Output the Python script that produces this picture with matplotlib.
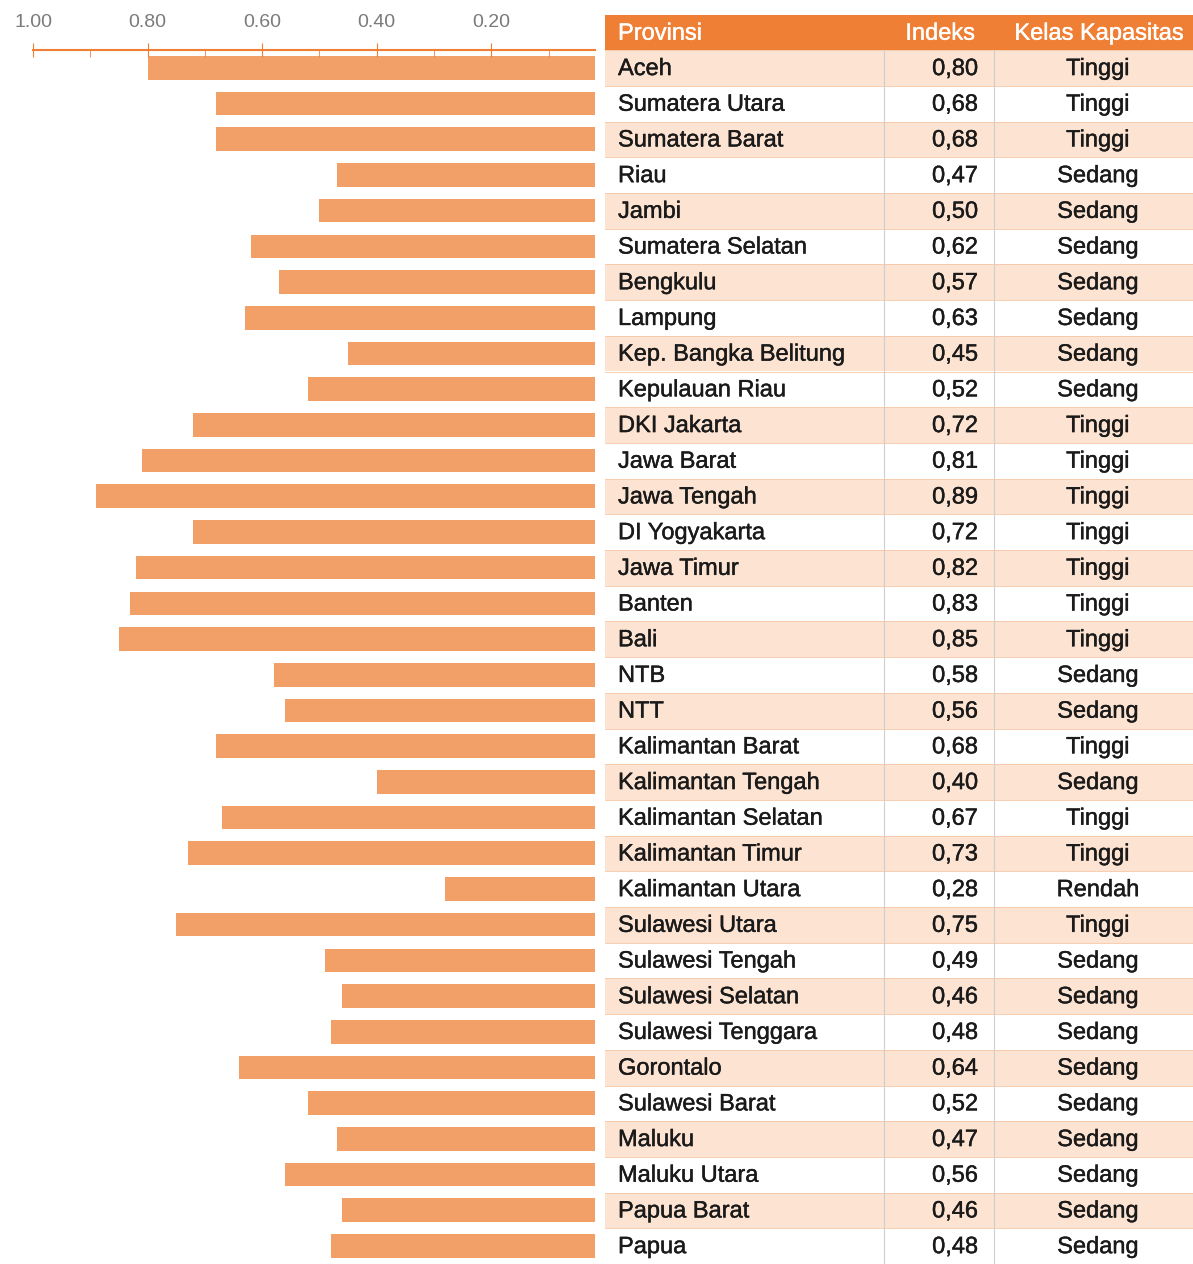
import numpy as np
import matplotlib.pyplot as plt
import matplotlib.patheffects as pe

provinsi = ["Aceh", "Sumatera Utara", "Sumatera Barat", "Riau", "Jambi",
            "Sumatera Selatan", "Bengkulu", "Lampung", "Kep. Bangka Belitung",
            "Kepulauan Riau", "DKI Jakarta", "Jawa Barat", "Jawa Tengah",
            "DI Yogyakarta", "Jawa Timur", "Banten", "Bali", "NTB", "NTT",
            "Kalimantan Barat", "Kalimantan Tengah", "Kalimantan Selatan",
            "Kalimantan Timur", "Kalimantan Utara", "Sulawesi Utara",
            "Sulawesi Tengah", "Sulawesi Selatan", "Sulawesi Tenggara",
            "Gorontalo", "Sulawesi Barat", "Maluku", "Maluku Utara",
            "Papua Barat", "Papua"]
indeks = [0.80, 0.68, 0.68, 0.47, 0.50, 0.62, 0.57, 0.63, 0.45, 0.52,
          0.72, 0.81, 0.89, 0.72, 0.82, 0.83, 0.85, 0.58, 0.56, 0.68,
          0.40, 0.67, 0.73, 0.28, 0.75, 0.49, 0.46, 0.48, 0.64, 0.52,
          0.47, 0.56, 0.46, 0.48]
kelas = ["Tinggi", "Tinggi", "Tinggi", "Sedang", "Sedang", "Sedang", "Sedang",
         "Sedang", "Sedang", "Sedang", "Tinggi", "Tinggi", "Tinggi", "Tinggi",
         "Tinggi", "Tinggi", "Tinggi", "Sedang", "Sedang", "Tinggi", "Sedang",
         "Tinggi", "Tinggi", "Rendah", "Tinggi", "Sedang", "Sedang", "Sedang",
         "Sedang", "Sedang", "Sedang", "Sedang", "Sedang", "Sedang"]
header = ["Provinsi", "Indeks", "Kelas Kapasitas"]
xticks = [1.00, 0.80, 0.60, 0.40, 0.20]

plt.rcParams['font.family'] = ['Liberation Sans', 'DejaVu Sans']

W, H = 1193, 1264
fig = plt.figure(figsize=(W / 100, H / 100), dpi=100)
n = len(provinsi)
rh = 35.7
top = 50

orange = '#ef7f35'
bar_c = '#f3a068'
shade = '#fce3d2'
ink = '#1a1a1a'

# bar chart, reversed x axis on top
ax = fig.add_axes([33 / W, 1 - (top + n * rh) / H, (595 - 33) / W, n * rh / H])
y = np.arange(n)
ax.barh(y, indeks, height=0.66, color=bar_c)
ax.set_xlim(1.0, 0.019)
ax.set_ylim(n - 0.5, -0.5)
for s in ['bottom', 'left', 'right']:
    ax.spines[s].set_visible(False)
ax.spines['top'].set_color(orange)
ax.spines['top'].set_linewidth(1.5)
ax.xaxis.tick_top()
ax.set_xticks(xticks)
ax.set_xticklabels([f"{v:.2f}" for v in xticks])
ax.set_xticks([0.9, 0.7, 0.5, 0.3, 0.1], minor=True)
ax.tick_params(axis='x', which='major', direction='inout', length=10,
               color=orange, labelcolor='#7a7a7a', labelsize=14, pad=9)
ax.tick_params(axis='x', which='minor', direction='in', length=5, color=orange)
ax.set_yticks([])

# table on the right
tx0, tx1 = 605, 1193
tb = fig.add_axes([tx0 / W, 0, (tx1 - tx0) / W, (top + n * rh) / H])
tb.set_xlim(tx0, tx1)
tb.set_ylim(top + n * rh, 0)
tb.axis('off')

tb.axhspan(15, top, color=orange, lw=0)
for i in range(n):
    y0 = top + i * rh
    if i % 2 == 0:
        tb.axhspan(y0, y0 + rh, color=shade, lw=0)
    tb.axhline(y0, color='#f6c7a6', lw=0.6)
for xv in [884, 994]:
    tb.plot([xv, xv], [top, top + n * rh], color='#cfcfcf', lw=0.8)

fs = 17
heavy = [pe.withStroke(linewidth=0.3, foreground=ink)]
heavy_w = [pe.withStroke(linewidth=0.3, foreground='white')]
hy = (15 + top) / 2 + 1
tb.text(618, hy, header[0], color='white', fontsize=fs, va='center', ha='left', path_effects=heavy_w)
tb.text(975, hy, header[1], color='white', fontsize=fs, va='center', ha='right', path_effects=heavy_w)
tb.text(1099, hy, header[2], color='white', fontsize=fs, va='center', ha='center', path_effects=heavy_w)
for i in range(n):
    yc = top + (i + 0.5) * rh + 1
    tb.text(618, yc, provinsi[i], fontsize=fs, va='center', ha='left', color=ink, path_effects=heavy)
    tb.text(978, yc, f"{indeks[i]:.2f}".replace('.', ','), fontsize=fs,
            va='center', ha='right', color=ink, path_effects=heavy)
    tb.text(1098, yc, kelas[i], fontsize=fs, va='center', ha='center', color=ink, path_effects=heavy)

fig.savefig('out.png', dpi=100)
